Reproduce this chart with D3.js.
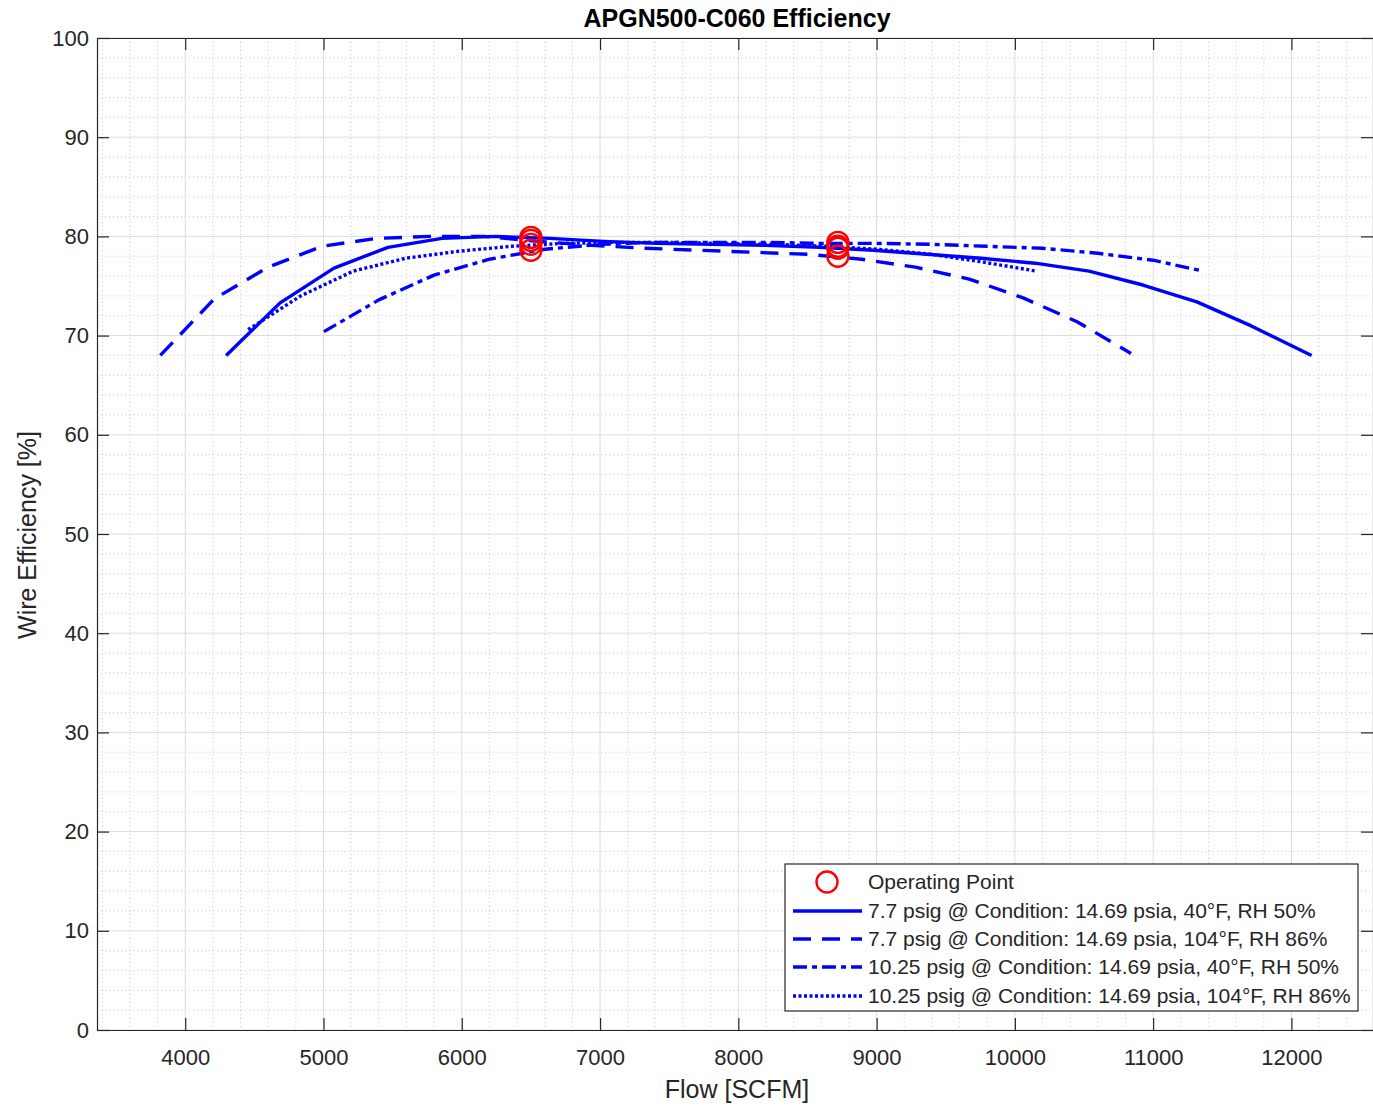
<!DOCTYPE html>
<html><head><meta charset="utf-8">
<script src="https://cdn.jsdelivr.net/npm/d3@7"></script>
<style>
body{margin:0;background:#fff;}
text{font-family:"Liberation Sans",Arial,Helvetica,sans-serif;}
</style></head>
<body>
<svg id="chart" width="1373" height="1107"></svg>
<script>
// ---- data ----
const s1x = [4296,4686,5076,5466,5856,6246,6636,7026,7416,7806,8196,8586,8976,9366,9756,10146,10536,10926,11316,11706,12146];
const s1y = [68.0,73.3,76.8,78.9,79.8,80.0,79.8,79.5,79.3,79.2,79.1,78.9,78.6,78.2,77.8,77.3,76.5,75.1,73.4,71.0,68.0];
const s2x = [3820,4210,4600,4990,5380,5770,6160,6550,6940,7330,7720,8110,8500,8890,9280,9670,10060,10450,10840];
const s2y = [68.0,73.7,76.9,79.0,79.8,80.0,80.0,79.5,79.1,78.8,78.6,78.4,78.2,77.7,76.9,75.7,73.8,71.4,68.2];
const s3x = [5003,5400,5800,6200,6600,7000,7400,7800,8200,8600,9000,9400,9800,10200,10600,11000,11361];
const s3y = [70.4,73.6,76.1,77.7,78.7,79.2,79.4,79.4,79.4,79.3,79.3,79.2,79.0,78.8,78.3,77.6,76.5];
const s4x = [4455,4835,5215,5595,5975,6355,6735,7115,7495,7875,8255,8635,9015,9395,9775,10155];
const s4y = [70.6,74.0,76.5,77.8,78.5,79.0,79.3,79.4,79.4,79.3,79.2,79.0,78.7,78.2,77.4,76.5];
const opX = [6500,6500,6500,6500,8720,8720,8720,8720];
const opY = [79.9,79.6,79.2,78.6,78.8,78.0,79.4,79.0];
const seriesNames = [
  "7.7 psig @ Condition: 14.69 psia, 40°F, RH 50%",
  "7.7 psig @ Condition: 14.69 psia, 104°F, RH 86%",
  "10.25 psig @ Condition: 14.69 psia, 40°F, RH 50%",
  "10.25 psig @ Condition: 14.69 psia, 104°F, RH 86%"
];
const xTicks = [4000,5000,6000,7000,8000,9000,10000,11000,12000];
const yTicks = [0,10,20,30,40,50,60,70,80,90,100];
const titleText = "APGN500-C060 Efficiency";
const xLabel = "Flow [SCFM]";
const yLabel = "Wire Efficiency [%]";

// ---- layout ----
const svg = d3.select("#chart");
const L = 97, R = 1373, T = 38, B = 1030;
const x = d3.scaleLinear().domain([3362, 12590]).range([L, R]);
const y = d3.scaleLinear().domain([0, 100]).range([B, T]);
const axisCol = "#262626";

// minor grid
const xMinor = d3.range(3400, 12600, 200).filter(v => v % 1000 !== 0);
const yMinor = d3.range(0, 101, 2).filter(v => v % 10 !== 0);
const g = svg.append("g");
g.selectAll(".xm").data(xMinor).enter().append("line")
  .attr("x1", d => x(d)).attr("x2", d => x(d)).attr("y1", T).attr("y2", B)
  .attr("stroke", "#c8c8c8").attr("stroke-width", 1).attr("stroke-dasharray", "1,3");
g.selectAll(".ym").data(yMinor).enter().append("line")
  .attr("y1", d => y(d)).attr("y2", d => y(d)).attr("x1", L).attr("x2", R)
  .attr("stroke", "#c8c8c8").attr("stroke-width", 1).attr("stroke-dasharray", "1,3");
// major grid
g.selectAll(".xg").data(xTicks).enter().append("line")
  .attr("x1", d => x(d)).attr("x2", d => x(d)).attr("y1", T).attr("y2", B)
  .attr("stroke", "#dcdcdc").attr("stroke-width", 1);
g.selectAll(".yg").data(yTicks).enter().append("line")
  .attr("y1", d => y(d)).attr("y2", d => y(d)).attr("x1", L).attr("x2", R)
  .attr("stroke", "#dcdcdc").attr("stroke-width", 1);

// axes
const tickLen = 12;
const xAxisB = d3.axisBottom(x).tickValues(xTicks).tickSizeInner(-tickLen).tickSizeOuter(0).tickPadding(19).tickFormat(d3.format("d"));
const xAxisT = d3.axisTop(x).tickValues(xTicks).tickSizeInner(-tickLen).tickSizeOuter(0).tickFormat("");
const yAxisL = d3.axisLeft(y).tickValues(yTicks).tickSizeInner(-tickLen).tickSizeOuter(0).tickPadding(8).tickFormat(d3.format("d"));
const yAxisR = d3.axisRight(y).tickValues(yTicks).tickSizeInner(-tickLen).tickSizeOuter(0).tickFormat("");
function styleAxis(sel){
  sel.selectAll("path").attr("stroke", axisCol).attr("stroke-width", 1.2);
  sel.selectAll("line").attr("stroke", axisCol).attr("stroke-width", 1.2);
  sel.selectAll("text").attr("fill", axisCol).attr("font-size", 22);
}
svg.append("g").attr("transform", `translate(0,${B})`).call(xAxisB).call(styleAxis);
svg.append("g").attr("transform", `translate(0,${T})`).call(xAxisT).call(styleAxis);
svg.append("g").attr("transform", `translate(${L},0)`).call(yAxisL).call(styleAxis);
svg.append("g").attr("transform", `translate(${R},0)`).call(yAxisR).call(styleAxis);

// lines
const series = [
  {xs: s1x, ys: s1y, dash: null},
  {xs: s2x, ys: s2y, dash: "18,11"},
  {xs: s3x, ys: s3y, dash: "14,5,5,5"},
  {xs: s4x, ys: s4y, dash: "3,2.5"}
];
const line = d3.line().x(d => x(d[0])).y(d => y(d[1]));
const plot = svg.append("g");
series.forEach(s => {
  const pts = s.xs.map((v, i) => [v, s.ys[i]]);
  const p = plot.append("path").datum(pts).attr("d", line)
    .attr("fill", "none").attr("stroke", "#0000ff").attr("stroke-width", 3.4)
    .attr("stroke-linejoin", "round");
  if (s.dash) p.attr("stroke-dasharray", s.dash);
});
// operating points
plot.selectAll(".op").data(opX.map((v, i) => [v, opY[i]])).enter().append("circle")
  .attr("cx", d => x(d[0])).attr("cy", d => y(d[1])).attr("r", 10.5)
  .attr("fill", "none").attr("stroke", "#ff0000").attr("stroke-width", 2.4);

// title & labels
svg.append("text").attr("x", 737).attr("y", 27).attr("text-anchor", "middle")
  .attr("font-size", 25).attr("font-weight", "bold").attr("fill", "#000").text(titleText);
svg.append("text").attr("x", 737).attr("y", 1098).attr("text-anchor", "middle")
  .attr("font-size", 25).attr("fill", axisCol).text(xLabel);
svg.append("text").attr("transform", "translate(36,535) rotate(-90)").attr("text-anchor", "middle")
  .attr("font-size", 25).attr("fill", axisCol).text(yLabel);

// legend
const lg = svg.append("g");
lg.append("rect").attr("x", 785).attr("y", 864).attr("width", 573).attr("height", 147)
  .attr("fill", "#fff").attr("stroke", axisCol).attr("stroke-width", 1.2);
const rowY = [882, 911, 939, 967, 996];
lg.append("circle").attr("cx", 827).attr("cy", rowY[0]).attr("r", 10.5)
  .attr("fill", "none").attr("stroke", "#ff0000").attr("stroke-width", 2.4);
lg.append("text").attr("x", 868).attr("y", rowY[0]).attr("dy", "0.35em")
  .attr("font-size", 21).attr("fill", axisCol).text("Operating Point");
series.forEach((s, i) => {
  const yy = rowY[i + 1];
  const l = lg.append("line").attr("x1", 793).attr("x2", 862).attr("y1", yy).attr("y2", yy)
    .attr("stroke", "#0000ff").attr("stroke-width", 3.4);
  if (s.dash) l.attr("stroke-dasharray", s.dash);
  lg.append("text").attr("x", 868).attr("y", yy).attr("dy", "0.35em")
    .attr("font-size", 21).attr("fill", axisCol).text(seriesNames[i]);
});
</script>
</body></html>
